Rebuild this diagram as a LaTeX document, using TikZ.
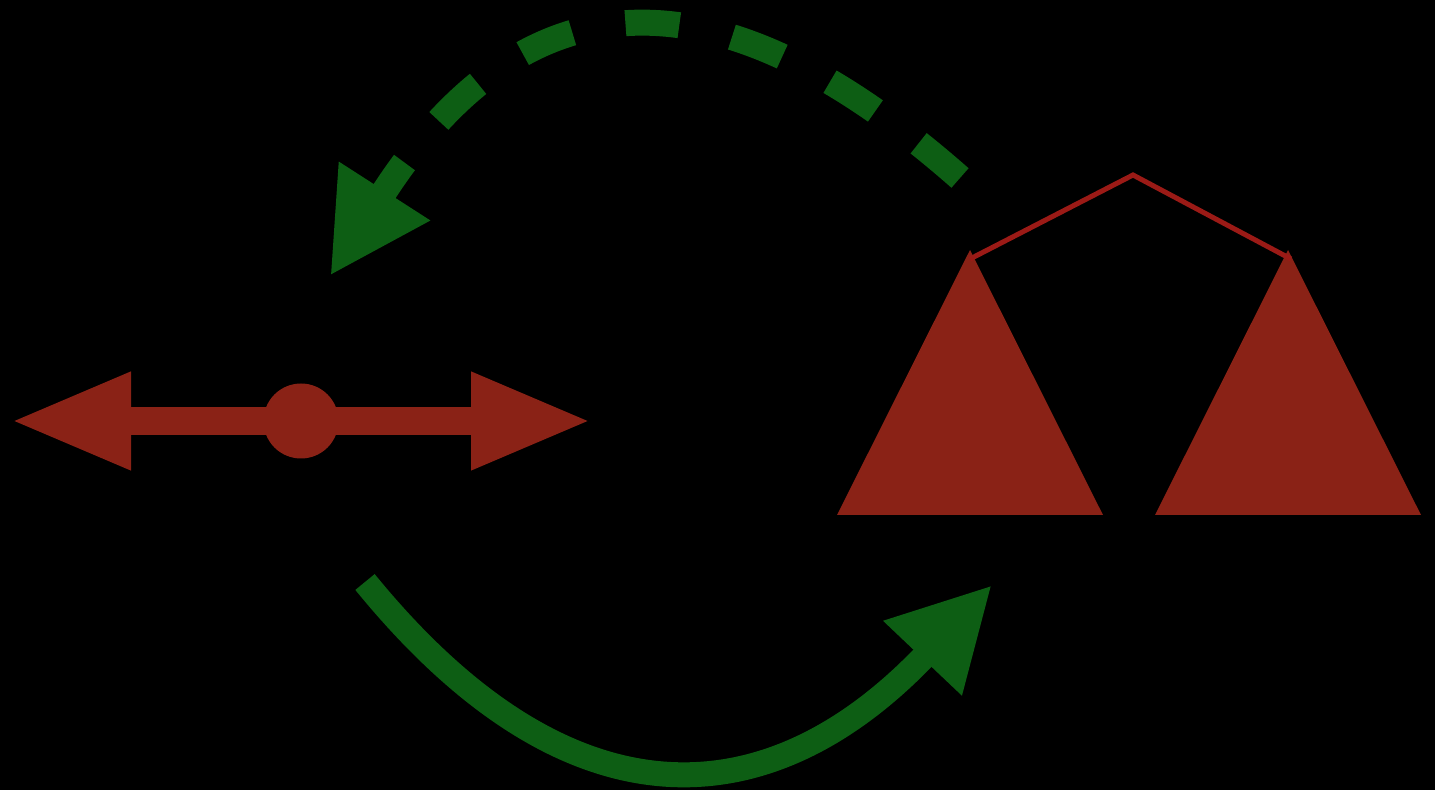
\documentclass[tikz,border=0pt]{standalone}
\usetikzlibrary{arrows.meta}
\definecolor{tri}{RGB}{138,34,22}
\definecolor{wire}{RGB}{155,26,22}
\definecolor{grn}{RGB}{13,94,20}
\begin{document}
\begin{tikzpicture}[x=0.5pt,y=-0.5pt,
  redarrow/.style={draw=tri,line width=14pt,
    {Triangle[length=60.5pt,width=45pt,fill=tri]}-{Triangle[length=60.5pt,width=45pt,fill=tri]}},
  hub/.style={circle,fill=tri,draw=none,minimum size=37.5pt,inner sep=0pt},
  treeface/.style={fill=tri},
  wireline/.style={draw=wire,line width=2.5pt,line join=miter},
  dashedarrow/.style={draw=grn,line width=13pt,dash pattern=on 27pt off 27pt,
    -{Triangle[length=50.5pt,width=50.5pt,fill=grn]}},
  solidarrow/.style={draw=grn,line width=12.5pt,
    -{Triangle[length=50.5pt,width=50.5pt,fill=grn]}}]
\fill[black] (0,0) rectangle (1435,790);
\useasboundingbox (0,0) rectangle (1435,790);
% red double arrow with hub
\coordinate (L) at (10,421);
\coordinate (R) at (592,421);
\draw[redarrow] (L) -- (R);
\node[hub] (hub) at (301,421) {};
% triangles (subtrees)
\coordinate (lt) at (970,250);
\coordinate (rt) at (1288,250);
\fill[treeface] (lt) -- (1103,515) -- (837,515) -- cycle;
\fill[treeface] (rt) -- (1421,515) -- (1155,515) -- cycle;
% connecting lines
\coordinate (root) at (1133,175);
\coordinate (ltop) at (970,259);
\coordinate (rtop) at (1291,259);
\draw[wireline] (ltop) -- (root) -- (rtop);
% green dashed arrow
\coordinate (ds) at (960,178);
\coordinate (de) at (330,276);
\draw[dashedarrow] (ds) .. controls (690,-60) and (508,-1) .. (de);
% green solid arrow
\coordinate (ss) at (365,582);
\coordinate (se) at (992,585);
\draw[solidarrow] (ss) .. controls (568,831) and (768,821) .. (se);
\end{tikzpicture}
\end{document}
